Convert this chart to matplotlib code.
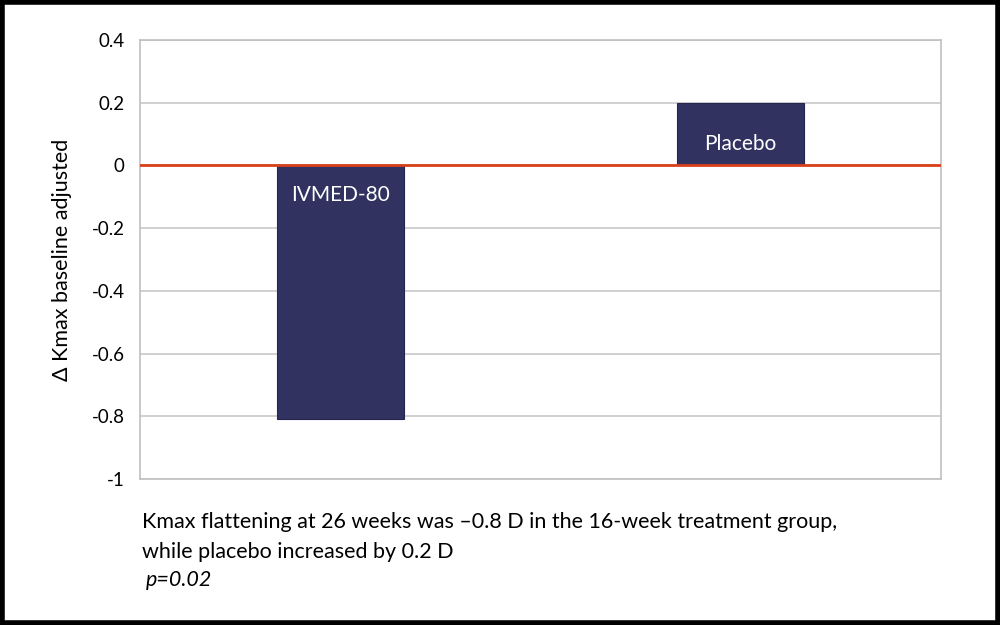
import matplotlib.pyplot as plt
from matplotlib.patches import Rectangle

groups = ['IVMED-80', 'Placebo']
values = [-0.81, 0.2]
yticks = [0.4, 0.2, 0, -0.2, -0.4, -0.6, -0.8, -1]
ytick_labels = ['0.4', '0.2', '0', '-0.2', '-0.4', '-0.6', '-0.8', '-1']

plt.rcParams['font.family'] = ['Lato', 'DejaVu Sans']

fig = plt.figure(figsize=(10, 6.25), dpi=100)
ax = fig.add_axes([0.14, 0.2336, 0.801, 0.7024])

x = range(len(groups))
ax.bar(x, values, width=0.317, color='#313260', edgecolor='#252650', linewidth=0.8, zorder=2)
ax.axhline(0, color='#d9401a', linewidth=2, zorder=3)

# labels inside the bars
ax.text(0, -0.095, groups[0], color='white', ha='center', va='center', fontsize=15, zorder=4)
ax.text(1, 0.068, groups[1], color='white', ha='center', va='center', fontsize=15, zorder=4)

ax.set_xlim(-0.5, 1.5)
ax.set_ylim(-1, 0.4)
ax.set_yticks(yticks)
ax.set_yticklabels(ytick_labels)
ax.set_xticks([])
ax.tick_params(axis='y', length=0, pad=11, labelsize=13.5)
ax.grid(axis='y', color='#c8c8c8', linewidth=1.2, zorder=0)
for s in ax.spines.values():
    s.set_color('#c0c0c0')
    s.set_linewidth(1.2)
ax.set_ylabel('Δ Kmax baseline adjusted', fontsize=15.5, labelpad=14)

fig.text(0.142, 0.165, 'Kmax flattening at 26 weeks was \u20130.8 D in the 16-week treatment group,',
         fontsize=15.5, va='center')
fig.text(0.142, 0.117, 'while placebo increased by 0.2 D', fontsize=15.5, va='center')
fig.text(0.146, 0.072, 'p=0.02', fontsize=15.5, va='center', style='italic')

fig.patches.append(Rectangle((0.002, 0.003), 0.996, 0.994, transform=fig.transFigure,
                             fill=False, edgecolor='black', linewidth=4))

fig.savefig('out.png', dpi=100)
